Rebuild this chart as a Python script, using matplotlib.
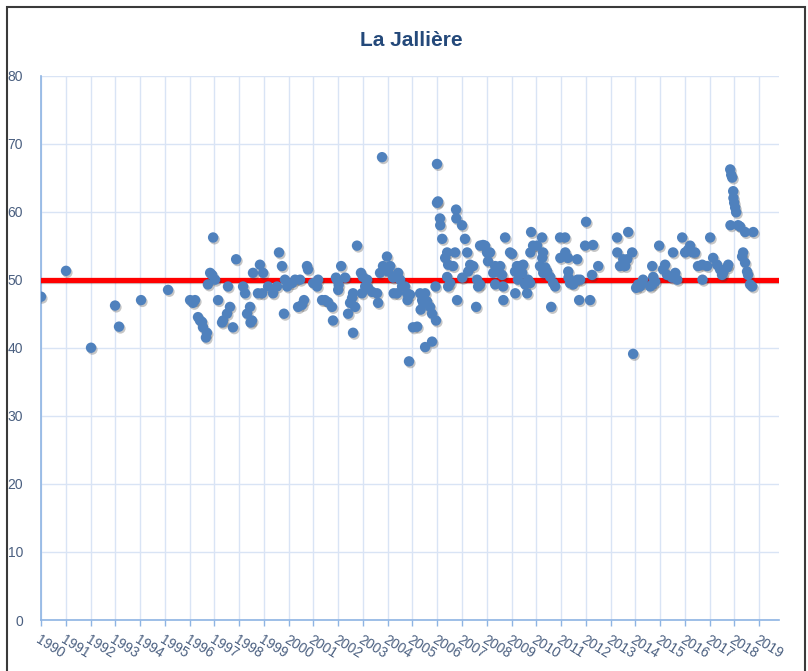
import matplotlib.pyplot as plt
import matplotlib.patheffects as pe
from matplotlib.patches import Rectangle

# Settings
plt.rcParams['font.family'] = ['Liberation Sans Narrow', 'Liberation Sans', 'DejaVu Sans']

title = "La Jallière"
threshold = 50
year_ticks = list(range(1990, 2020))
y_ticks = list(range(0, 81, 10))

# measurements (decimal year, value)
years = [
    1990.00, 1991.01, 1992.02, 1992.99, 1993.15, 1994.04, 1995.13,
    1996.02, 1996.14, 1996.22, 1996.34, 1996.42, 1996.50, 1996.54, 1996.70, 1996.66, 1996.74,
    1996.83, 1996.91, 1996.95, 1997.03, 1997.15, 1997.31, 1997.35, 1997.51, 1997.55, 1997.63,
    1997.75, 1997.88, 1998.16, 1998.24, 1998.32, 1998.44, 1998.46, 1998.52, 1998.56, 1998.76,
    1998.84, 1998.93, 1998.97, 1999.17, 1999.37, 1999.53, 1999.61, 1999.73, 1999.81, 1999.85,
    1999.94, 2000.14, 2000.26, 2000.38, 2000.46, 2000.54, 2000.62, 2000.74, 2000.78, 2000.99,
    2001.15, 2001.19, 2001.35, 2001.47, 2001.59, 2001.75, 2001.79, 2001.95, 2002.00, 2002.12,
    2001.91, 2002.28, 2002.02, 2002.60, 2002.56, 2002.48, 2002.68, 2002.40, 2002.60, 2002.76,
    2002.92, 2003.00, 2003.17, 2003.09, 2003.21, 2002.96, 2003.37, 2003.57, 2003.61, 2003.69,
    2003.77, 2003.81, 2003.97, 2004.10, 2004.01, 2004.22, 2004.42, 2004.50, 2004.24, 2004.38,
    2004.58, 2004.70, 2004.78, 2004.90, 2004.80, 2004.86, 2005.02, 2005.19, 2005.31, 2005.51,
    2005.39, 2005.43, 2005.59, 2005.33, 2005.71, 2005.79, 2005.95, 2005.51, 2005.79, 2005.93,
    2005.99, 2005.99, 2006.03, 2006.11, 2006.12, 2006.20, 2006.40, 2006.32, 2006.44, 2006.64,
    2006.40, 2006.44, 2006.52, 2006.72, 2006.76, 2006.77, 2007.00, 2006.80, 2007.01, 2007.12,
    2007.21, 2007.33, 2007.45, 2007.25, 2007.61, 2007.65, 2007.57, 2007.73, 2007.93, 2008.01,
    2008.05, 2007.85, 2008.13, 2008.34, 2008.54, 2008.46, 2008.26, 2008.62, 2007.73, 2008.34,
    2008.66, 2008.67, 2008.74, 2008.94, 2009.02, 2009.14, 2009.22, 2009.35, 2009.47, 2009.43,
    2009.26, 2009.15, 2009.63, 2009.67, 2009.75, 2009.55, 2009.79, 2009.87, 2009.76, 2010.03,
    2010.23, 2010.27, 2010.24, 2010.15, 2010.36, 2010.28, 2010.44, 2010.56, 2010.68, 2010.76,
    2010.60, 2010.96, 2011.16, 2010.97, 2011.17, 2011.28, 2011.65, 2011.29, 2011.30, 2011.36,
    2011.49, 2011.66, 2011.77, 2011.73, 2012.17, 2012.01, 2011.97, 2012.29, 2012.25, 2012.50,
    2013.26, 2013.27, 2013.38, 2013.59, 2013.67, 2013.51, 2013.71, 2013.87, 2013.91, 2014.11,
    2014.27, 2014.31, 2014.19, 2014.03, 2014.68, 2014.72, 2014.69, 2014.60, 2014.80, 2014.96,
    2015.20, 2015.12, 2015.28, 2015.48, 2015.61, 2015.69, 2015.52, 2015.89, 2016.01, 2016.13,
    2016.21, 2016.33, 2016.41, 2016.53, 2016.70, 2016.90, 2016.71, 2017.02, 2017.14, 2017.30,
    2017.42, 2017.50, 2017.54, 2017.71, 2017.75, 2017.83, 2017.87, 2017.91, 2017.95, 2017.96,
    2017.99, 2018.03, 2018.07, 2017.84, 2018.15, 2018.23, 2018.43, 2018.76, 2018.31, 2018.35,
    2018.43, 2018.51, 2018.55, 2018.63, 2018.72,
]
values = [
    47.5, 51.3, 40.0, 46.2, 43.1, 47.0, 48.5,
    47.0, 46.6, 47.0, 44.5, 44.0, 43.8, 43.0, 42.2, 41.5, 49.3,
    51.0, 50.7, 56.2, 50.0, 47.0, 43.7, 44.0, 45.0, 49.0, 46.0,
    43.0, 53.0, 49.0, 48.0, 45.0, 46.0, 43.7, 44.0, 51.0, 48.0,
    52.2, 48.0, 51.0, 49.0, 48.0, 49.0, 54.0, 52.0, 45.0, 50.0,
    49.0, 49.5, 50.0, 46.0, 50.0, 46.3, 47.0, 52.0, 51.5, 49.5,
    49.0, 50.0, 47.0, 47.0, 46.7, 46.0, 44.0, 50.0, 48.5, 52.0,
    50.3, 50.3, 49.2, 48.0, 47.3, 46.6, 46.0, 45.0, 42.2, 55.0,
    51.0, 50.4, 50.0, 49.0, 48.8, 48.0, 48.2, 48.0, 46.6, 51.0,
    68.0, 52.0, 53.4, 52.0, 51.2, 50.3, 51.0, 50.0, 48.0, 48.0,
    49.0, 49.0, 48.0, 47.8, 47.0, 38.0, 43.0, 43.1, 48.0, 48.0,
    47.0, 46.6, 46.8, 45.6, 46.0, 45.0, 44.0, 40.1, 40.9, 49.0,
    67.0, 61.3, 61.5, 59.0, 58.0, 56.0, 54.0, 53.2, 52.2, 52.0,
    50.4, 49.0, 49.5, 54.0, 60.3, 59.0, 58.0, 47.0, 50.3, 56.0,
    54.0, 52.2, 52.0, 51.2, 50.0, 49.0, 46.0, 55.0, 55.0, 54.0,
    52.7, 55.1, 54.0, 52.0, 52.0, 51.2, 51.0, 50.7, 49.3, 49.3,
    49.0, 47.0, 56.2, 54.0, 53.8, 51.2, 52.0, 52.0, 52.2, 51.0,
    50.0, 48.0, 48.0, 50.0, 49.5, 49.3, 57.0, 55.0, 54.0, 55.0,
    56.2, 54.0, 53.2, 52.0, 51.8, 51.0, 51.2, 50.4, 49.5, 49.0,
    46.0, 56.2, 56.2, 53.2, 54.0, 53.2, 53.0, 51.2, 50.3, 49.5,
    49.3, 50.0, 50.0, 47.0, 47.0, 58.5, 55.0, 55.1, 50.7, 52.0,
    56.2, 54.0, 52.0, 52.0, 53.0, 53.0, 57.0, 54.0, 39.1, 49.3,
    49.5, 50.0, 49.0, 48.8, 52.0, 50.4, 49.3, 49.0, 49.7, 55.0,
    52.2, 51.5, 50.7, 50.3, 51.0, 50.0, 54.0, 56.2, 54.0, 54.4,
    55.0, 54.0, 54.0, 52.0, 52.2, 52.0, 50.0, 56.2, 53.2, 52.2,
    51.5, 50.7, 51.0, 51.8, 52.2, 66.2, 65.4, 65.0, 63.0, 62.0,
    61.3, 60.6, 59.9, 58.0, 58.0, 57.8, 57.0, 57.0, 53.4, 54.0,
    52.5, 51.2, 50.7, 49.3, 49.0,
]

fig = plt.figure(figsize=(8.08, 6.71), dpi=100)
ax = fig.add_axes([41 / 808, 1 - 620 / 671, (779 - 41) / 808, (620 - 75.5) / 671])

# chart frame
fig.patches.append(Rectangle((7 / 808, -0.01), 798 / 808, 1 - 7 / 671 + 0.01,
                             transform=fig.transFigure, fill=False,
                             edgecolor='#3a3a3a', linewidth=1.5))

ax.axhline(threshold, color='#ff0000', linewidth=3.8, zorder=3,
           path_effects=[pe.SimpleLineShadow(offset=(0.8, -1.2), alpha=0.2), pe.Normal()])

ax.scatter(years, values, s=56, color='#4f81bd', edgecolors='none', zorder=4,
           path_effects=[pe.SimplePatchShadow(offset=(1.0, -1.3), shadow_rgbFace='#333333', alpha=0.28),
                         pe.Normal()])

ax.set_xlim(1990, 2019.8)
ax.set_ylim(0, 80)
ax.set_xticks(year_ticks)
ax.set_xticklabels([str(y) for y in year_ticks], rotation=-32, ha='left', va='top',
                   rotation_mode='anchor', fontsize=10, color='#4a5f80')
ax.set_yticks(y_ticks)
ax.set_yticklabels([str(y) for y in y_ticks], fontsize=10, color='#4a5f80')

ax.tick_params(axis='y', length=0, pad=13)
ax.tick_params(axis='x', length=4, width=1, color='#8eb4e3', pad=5)

ax.grid(True, color='#d9e4f5', linewidth=1, zorder=0)
ax.set_axisbelow(True)
for side in ['top', 'right']:
    ax.spines[side].set_visible(False)
for side in ['left', 'bottom']:
    ax.spines[side].set_color('#8eb4e3')
    ax.spines[side].set_linewidth(1.2)

fig.text(411 / 808, 1 - 40 / 671, title, ha='center', va='center',
         fontsize=15, fontweight='bold', color='#24497a')

plt.savefig('out.png', dpi=100)
